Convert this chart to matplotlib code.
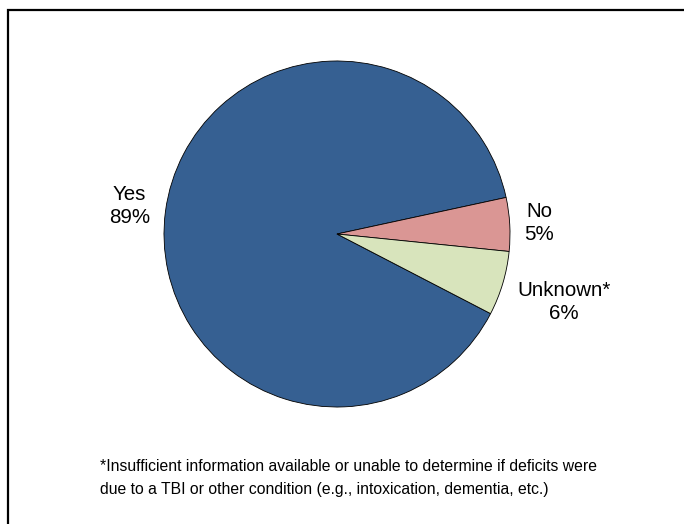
import numpy as np
import matplotlib.pyplot as plt
from matplotlib.patches import Rectangle

plt.rcParams['font.family'] = ['Liberation Sans', 'DejaVu Sans']

categories = ['Yes', 'No', 'Unknown*']
shares = [89, 5, 6]
colors = ['#366092', '#DA9694', '#D8E4BC']
label_dist = [1.21, 1.17, 1.37]
footnote = ('*Insufficient information available or unable to determine if deficits were\n'
            'due to a TBI or other condition (e.g., intoxication, dementia, etc.)')

fig = plt.figure(figsize=(6.84, 5.24), dpi=100)

# outer frame, open on the right and bottom
fig.patches.append(Rectangle((8 / 684, -0.1), 1.2, 1 - 10 / 524 + 0.1,
                             transform=fig.transFigure, fill=False,
                             edgecolor='k', linewidth=1.6))

ax = fig.add_axes([164 / 684, 117 / 524, 346 / 684, 346 / 524])
wedges, _ = ax.pie(shares, colors=colors, startangle=-27.4, counterclock=False,
                   radius=1, wedgeprops=dict(edgecolor='k', linewidth=0.6))
ax.set_xlim(-1, 1)
ax.set_ylim(-1, 1)
ax.set_aspect('auto')
ax.axis('off')

for w, name, val, d in zip(wedges, categories, shares, label_dist):
    mid = np.deg2rad((w.theta1 + w.theta2) / 2)
    ax.text(d * np.cos(mid), d * np.sin(mid), f'{name}\n{val}%',
            ha='center', va='center', fontsize=14.8, linespacing=1.25,
            clip_on=False)

fig.text(100 / 684, 1 - 478 / 524, footnote, ha='left', va='center',
         fontsize=11.3, linespacing=1.6)

fig.savefig('out.png', dpi=100)
